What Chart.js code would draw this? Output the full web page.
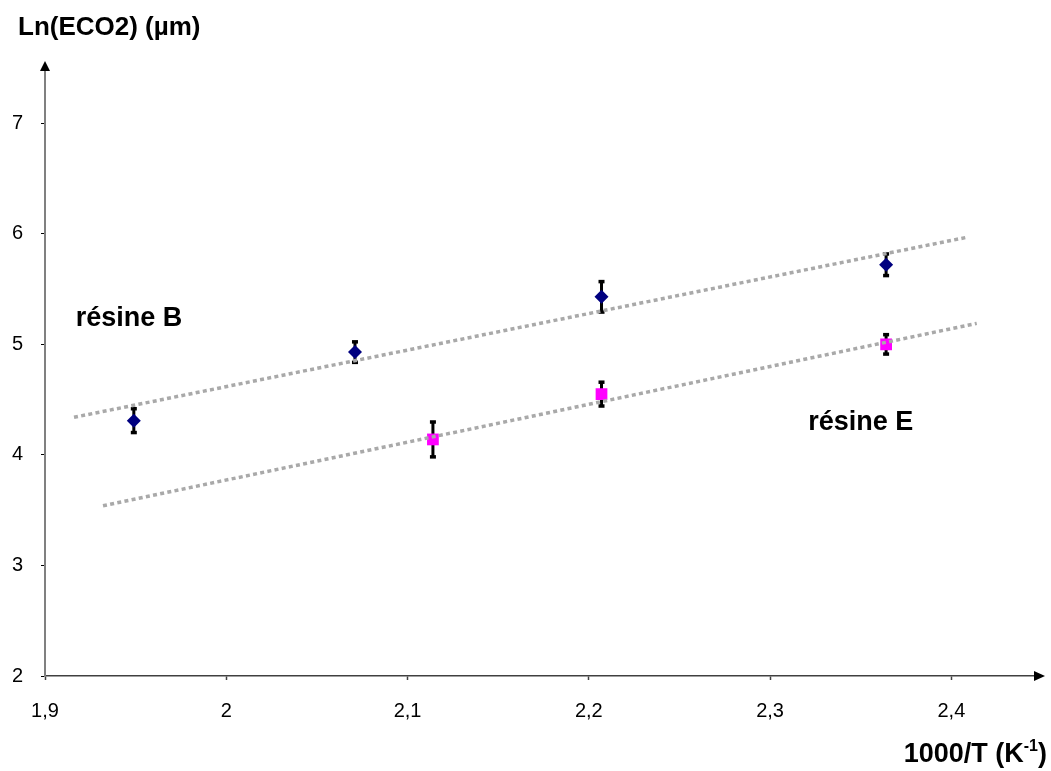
<!DOCTYPE html>
<html><head><meta charset="utf-8">
<script src="https://cdn.jsdelivr.net/npm/chart.js@4.4.0/dist/chart.umd.min.js"></script>
<style>html,body{margin:0;padding:0;background:#fff}canvas{display:block}</style>
</head><body>
<canvas id="c" width="1051" height="771"></canvas>
<script>
// ---- data ----
const resinB_x = [1.949, 2.071, 2.207, 2.364];
const resinB_y = [4.31, 4.93, 5.43, 5.72];
const resinB_err = [0.11, 0.095, 0.14, 0.10];
const resinE_x = [2.114, 2.207, 2.364];
const resinE_y = [4.14, 4.55, 5.00];
const resinE_err = [0.16, 0.11, 0.09];
const trendB_x = [1.916, 2.409];
const trendB_y = [4.34, 5.97];
const trendE_x = [1.932, 2.414];
const trendE_y = [3.54, 5.19];
const xTickValues = [1.9, 2.0, 2.1, 2.2, 2.3, 2.4];
const xTickLabels = ['1,9', '2', '2,1', '2,2', '2,3', '2,4'];
const yTickValues = [2, 3, 4, 5, 6, 7];
const yTickLabels = ['2', '3', '4', '5', '6', '7'];
const seriesNames = ['résine B', 'résine E'];
const yTitle = 'Ln(ECO2) (µm)';
const xTitleMain = '1000/T (K';
const xTitleSup = '-1';
const xTitleEnd = ')';

const FONT = "'Liberation Sans', Arial, sans-serif";
const pts = (xs, ys) => xs.map((x, i) => ({x: x, y: ys[i]}));

const errPlugin = {
  id: 'errbars',
  beforeDatasetsDraw(chart) {
    const ctx = chart.ctx, xs = chart.scales.x, ys = chart.scales.y;
    ctx.save();
    ctx.fillStyle = '#000';
    const draw = (X, Y, E) => {
      X.forEach((xv, i) => {
        const px = xs.getPixelForValue(xv);
        const t = ys.getPixelForValue(Y[i] + E[i]);
        const b = ys.getPixelForValue(Y[i] - E[i]);
        ctx.fillRect(px - 1.5, t, 3, b - t);
        ctx.fillRect(px - 3, t - 1.5, 6, 3.5);
        ctx.fillRect(px - 3, b - 2, 6, 3.5);
      });
    };
    draw(resinB_x, resinB_y, resinB_err);
    draw(resinE_x, resinE_y, resinE_err);
    ctx.restore();
  },
  afterDraw(chart) {
    const ctx = chart.ctx, xs = chart.scales.x, ys = chart.scales.y;
    const ca = chart.chartArea;
    ctx.save();
    // arrows
    ctx.fillStyle = '#000';
    ctx.beginPath();
    ctx.moveTo(ca.left, ca.top - 7);
    ctx.lineTo(ca.left - 5, ca.top + 3);
    ctx.lineTo(ca.left + 5, ca.top + 3);
    ctx.closePath(); ctx.fill();
    ctx.beginPath();
    ctx.moveTo(ca.right + 3, ca.bottom);
    ctx.lineTo(ca.right - 8, ca.bottom - 5);
    ctx.lineTo(ca.right - 8, ca.bottom + 5);
    ctx.closePath(); ctx.fill();
    // y title
    ctx.fillStyle = '#000';
    ctx.textBaseline = 'alphabetic';
    ctx.textAlign = 'left';
    ctx.font = 'bold 26px ' + FONT;
    ctx.fillText(yTitle, 18, 35);
    // x title with superscript
    const big = 'bold 27px ' + FONT, small = 'bold 16px ' + FONT;
    ctx.font = big; const w1 = ctx.measureText(xTitleMain).width; const w3 = ctx.measureText(xTitleEnd).width;
    ctx.font = small; const w2 = ctx.measureText(xTitleSup).width;
    let x0 = 1047 - (w1 + w2 + w3);
    ctx.font = big; ctx.fillText(xTitleMain, x0, 762);
    ctx.font = small; ctx.fillText(xTitleSup, x0 + w1, 751);
    ctx.font = big; ctx.fillText(xTitleEnd, x0 + w1 + w2, 762);
    // series labels
    ctx.font = 'bold 27px ' + FONT;
    ctx.textBaseline = 'middle';
    ctx.fillText(seriesNames[0], xs.getPixelForValue(1.917), ys.getPixelForValue(5.23));
    ctx.fillText(seriesNames[1], xs.getPixelForValue(2.321), ys.getPixelForValue(4.29));
    ctx.restore();
  }
};

new Chart(document.getElementById('c'), {
  type: 'scatter',
  data: {
    datasets: [
      {label: 'trend B', data: pts(trendB_x, trendB_y), showLine: true, pointRadius: 0,
       borderColor: '#A9A9A9', borderWidth: 3.5, borderDash: [4, 3.3], order: 0},
      {label: 'trend E', data: pts(trendE_x, trendE_y), showLine: true, pointRadius: 0,
       borderColor: '#A9A9A9', borderWidth: 3.5, borderDash: [4, 3.3], order: 0},
      {label: seriesNames[0], data: pts(resinB_x, resinB_y), pointStyle: 'rectRot', pointRadius: 7,
       backgroundColor: '#000080', borderColor: '#000080', borderWidth: 0, order: 1},
      {label: seriesNames[1], data: pts(resinE_x, resinE_y), pointStyle: 'rect', pointRadius: 8.3,
       backgroundColor: '#FF00FF', borderColor: '#FF00FF', borderWidth: 0, order: 1}
    ]
  },
  options: {
    responsive: false,
    animation: false,
    layout: {padding: {top: 68, right: 9, left: 0, bottom: 0}},
    plugins: {legend: {display: false}, tooltip: {enabled: false}},
    scales: {
      x: {
        type: 'linear', min: 1.9, max: 2.45,
        afterFit(s) { s.height = 95; },
        afterBuildTicks(s) { s.ticks = xTickValues.map(v => ({value: v})); },
        ticks: {autoSkip: false, maxRotation: 0, padding: 19, color: '#000',
                font: {family: FONT, size: 20},
                callback: (v, i) => xTickLabels[i]},
        grid: {drawOnChartArea: false, drawTicks: true, tickLength: 4, tickColor: '#404040', tickWidth: 1.5},
        border: {display: true, color: '#404040', width: 1.5}
      },
      y: {
        type: 'linear', min: 2, max: 7.5,
        afterFit(s) { s.width = 45; },
        afterBuildTicks(s) { s.ticks = yTickValues.map(v => ({value: v})); },
        ticks: {autoSkip: false, padding: 18, color: '#000',
                font: {family: FONT, size: 20},
                callback: (v, i) => yTickLabels[i]},
        grid: {drawOnChartArea: false, drawTicks: true, tickLength: 4, tickColor: '#000', tickWidth: 1},
        border: {display: true, color: '#808080', width: 2}
      }
    }
  },
  plugins: [errPlugin]
});
</script>
</body></html>
